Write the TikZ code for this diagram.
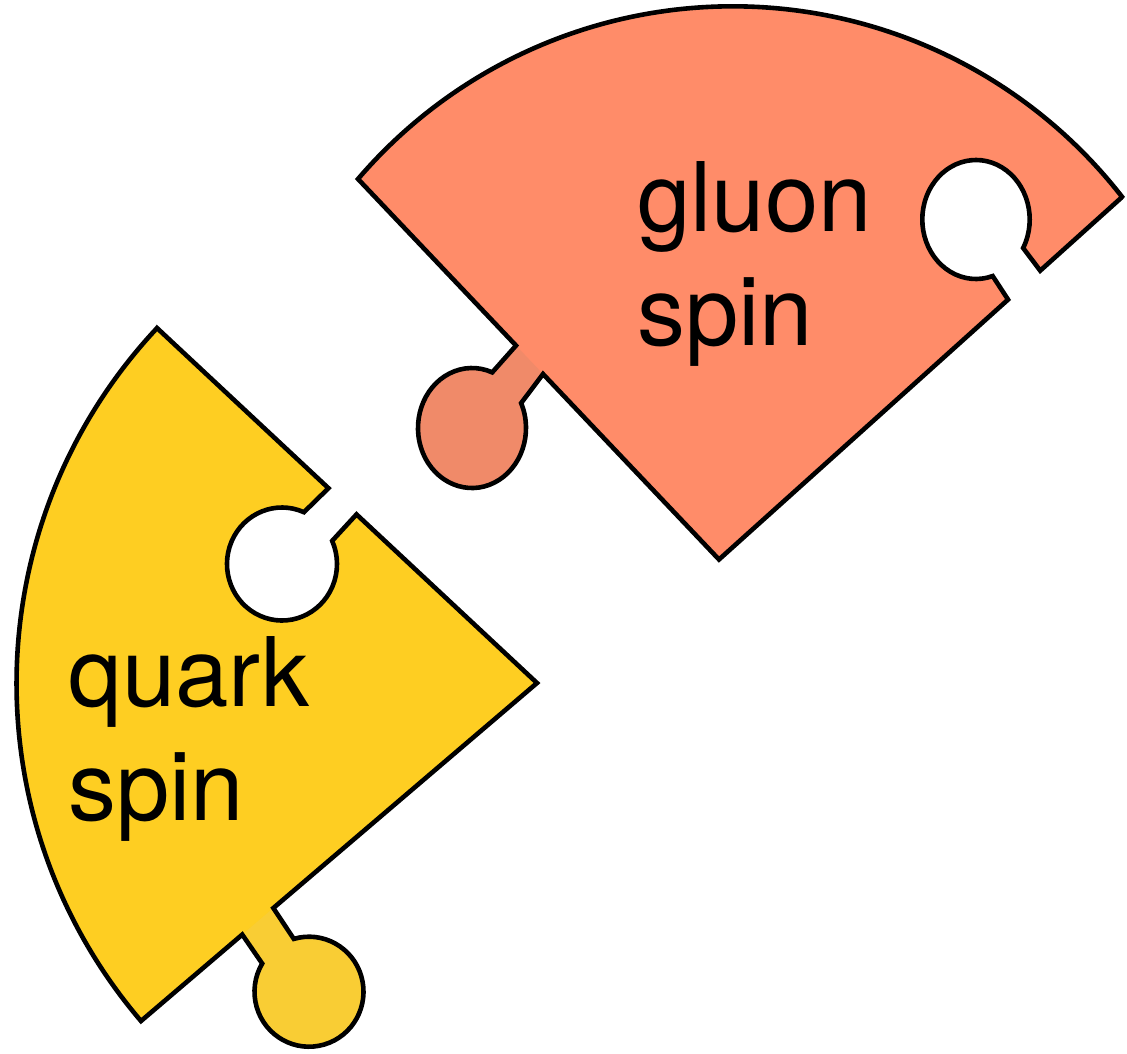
\documentclass[tikz,border=0pt]{standalone}
\usepackage{fontspec}
\setmainfont{TeX Gyre Heros}
\usetikzlibrary{calc}
\definecolor{gluonbody}{RGB}{255,140,105}
\definecolor{gluonknob}{RGB}{240,138,105}
\definecolor{quarkbody}{RGB}{254,206,34}
\definecolor{quarkknob}{RGB}{249,205,52}
\begin{document}
\begin{tikzpicture}[x=1pt,y=-1pt,
  outline/.style={draw=black,line width=4.6pt,line join=miter},
  txt/.style={font=\fontsize{96}{115}\selectfont,anchor=base west,inner sep=0pt,text=black}]
\useasboundingbox (0,0) rectangle (1127,1053);

% ---------- gluon piece ----------
\coordinate (gL) at (358,179);
\coordinate (gR) at (1121,198);
\coordinate (gA) at (719,559.5);
\coordinate (gc1) at ($(gL)!0.4377!(gA)$);
\coordinate (gc2) at ($(gL)!0.5125!(gA)$);
\coordinate (gk) at (472,428);
\coordinate (gk1) at ($(gk)+(-68:54 and 60)$);
\coordinate (gk2) at ($(gk)+(-24.5:54 and 60)$);
\coordinate (gh) at (976,219.5);
\coordinate (gh1) at ($(gh)+(28.6:53.7 and 59.5)$);
\coordinate (gs1) at ($(gA)!0.799!(gR)$);
\coordinate (gs2) at ($(gA)!0.719!(gR)$);

\path[save path=\gluonP] (gL) arc[start angle=-139.48, end angle=-37.85, radius=493] -- (gR)
  -- (gs1) -- (gh1) arc[start angle=28.6, end angle=-288.1, x radius=53.7, y radius=59.5]
  -- (gs2) -- (gA) -- (gc2) -- (gk2) arc[start angle=-24.5, end angle=292, x radius=54, y radius=60]
  -- (gc1) -- cycle;
\fill[gluonbody, use path=\gluonP];
\fill[gluonknob] (gc1) -- (gk1) -- (gk2) -- (gc2) -- cycle;
\fill[gluonknob] (gk) ellipse[x radius=54, y radius=60];
\draw[outline, use path=\gluonP];

% ---------- quark piece ----------
\coordinate (qT) at (157,328);
\coordinate (qA) at (537,683);
\coordinate (qB) at (141,1021);
\coordinate (qs1) at ($(qT)!0.4512!(qA)$);
\coordinate (qs2) at ($(qT)!0.525!(qA)$);
\coordinate (qh) at (282,564);
\coordinate (qh1) at ($(qh)+(-66.5:55 and 56.5)$);
\coordinate (qc1) at ($(qA)!0.6658!(qB)$);
\coordinate (qc2) at ($(qA)!0.7443!(qB)$);
\coordinate (qk) at (309,991.7);
\coordinate (qk1) at ($(qk)+(-106.2:54.5 and 55)$);
\coordinate (qk2) at ($(qk)+(210.8:54.5 and 55)$);

\path[save path=\quarkP] (qT) -- (qs1) -- (qh1) arc[start angle=-66.5, end angle=-384.2, x radius=55, y radius=56.5]
  -- (qs2) -- (qA) -- (qc1) -- (qk1) arc[start angle=-106.2, end angle=210.8, x radius=54.5, y radius=55]
  -- (qc2) -- (qB) arc[start angle=139.51, end angle=223.05, radius=519.8] -- cycle;
\fill[quarkbody, use path=\quarkP];
\fill[quarkknob] (qc1) -- (qk1) -- (qk2) -- (qc2) -- cycle;
\fill[quarkknob] (qk) ellipse[x radius=54.5, y radius=55];
\draw[outline, use path=\quarkP];

% ---------- labels ----------
\node[txt] (g1) at (637,231) {gluon};
\node[txt] (g2) at (637,345.5) {spin};
\node[txt] (q1) at (68,706) {quark};
\node[txt] (q2) at (68,820.5) {spin};
\end{tikzpicture}
\end{document}
